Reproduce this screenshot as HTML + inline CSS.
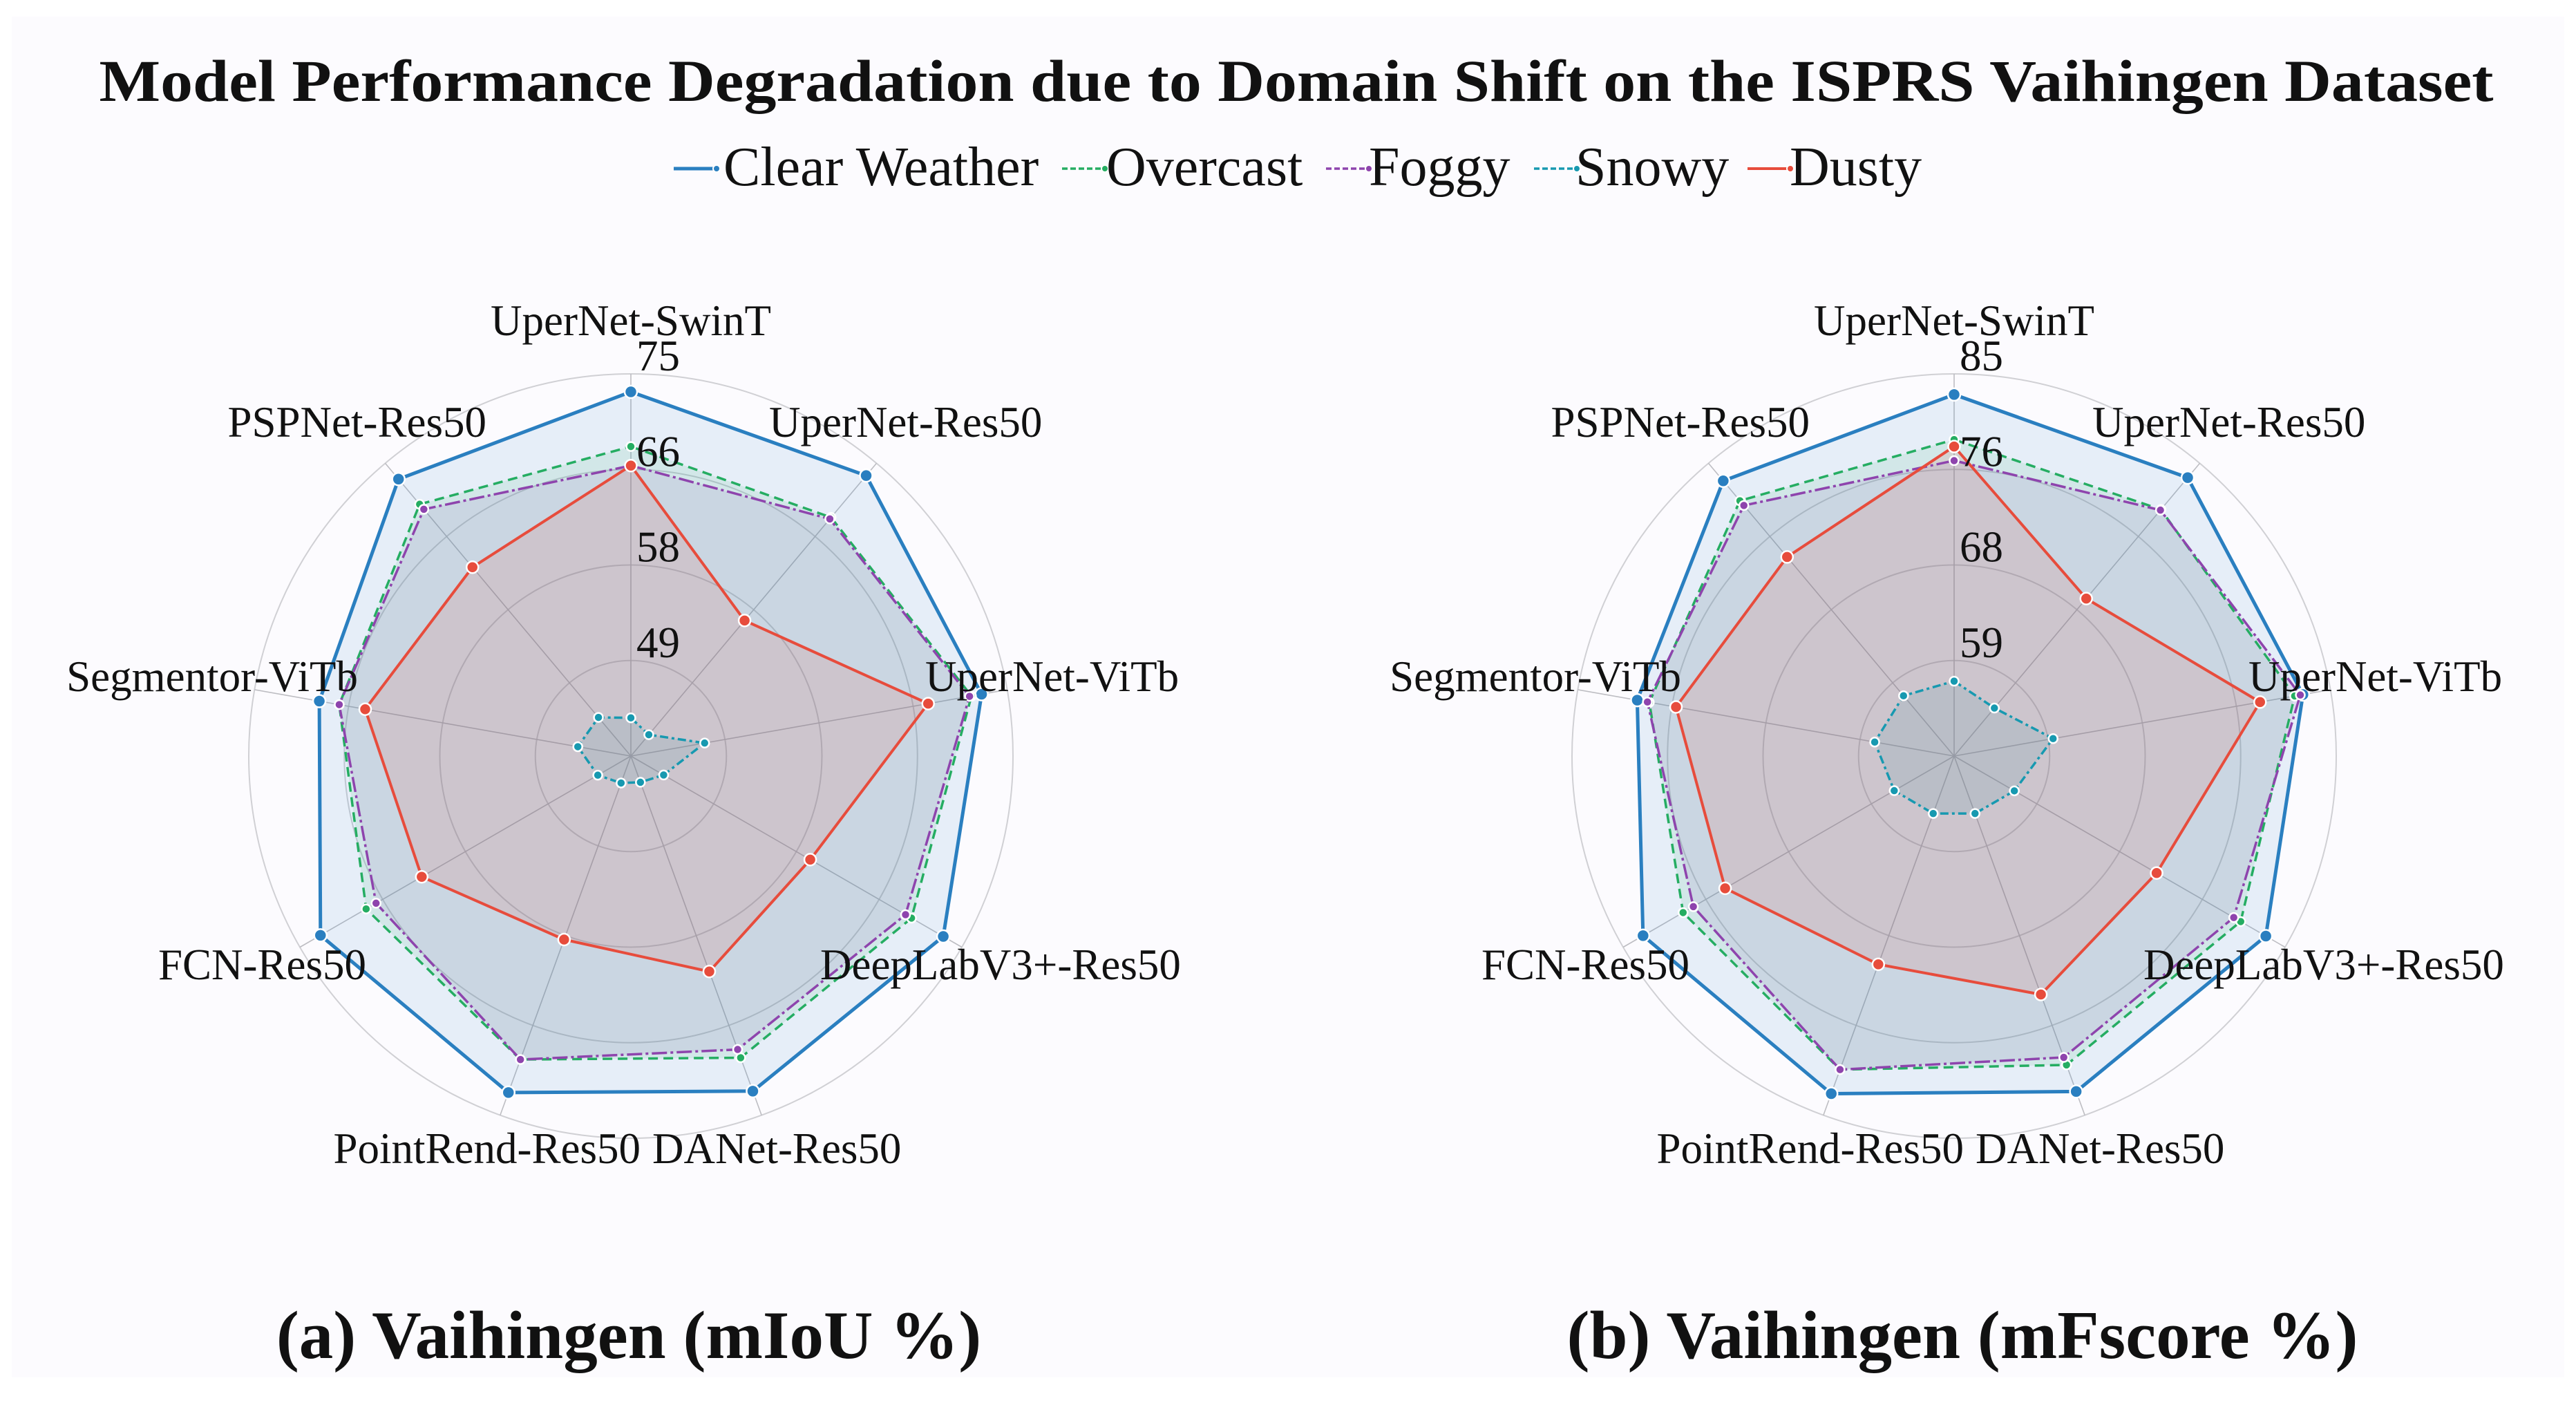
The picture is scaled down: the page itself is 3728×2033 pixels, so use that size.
<!DOCTYPE html>
<html><head><meta charset="utf-8">
<style>
html,body{margin:0;padding:0;background:#fff;}
svg{display:block;}
text{font-family:"Liberation Serif",serif;fill:#111;}
</style></head>
<body>
<svg id="s" width="3728" height="2033" viewBox="0 0 3728 2033" xmlns="http://www.w3.org/2000/svg">
<rect x="0" y="0" width="3728" height="2033" fill="#ffffff"/>
<rect x="17" y="24" width="3694" height="1969" fill="#fcfbfe"/>
<text x="1876" y="146" text-anchor="middle" font-size="86" font-weight="bold" textLength="3465" lengthAdjust="spacingAndGlyphs">Model Performance Degradation due to Domain Shift on the ISPRS Vaihingen Dataset</text>
<g id="legend"></g>
<g id="charts"></g>
<text x="910" y="1965" text-anchor="middle" font-size="99" font-weight="bold">(a) Vaihingen (mIoU %)</text>
<text x="2840" y="1965" text-anchor="middle" font-size="99" font-weight="bold">(b) Vaihingen (mFscore %)</text>
</svg>
<script>
var NS="http://www.w3.org/2000/svg";
function el(p,t,a,txt){var e=document.createElementNS(NS,t);for(var k in a)e.setAttribute(k,a[k]);if(txt!==undefined)e.textContent=txt;p.appendChild(e);return e;}
var series=[
 {name:"Clear Weather",c:"#2a7fc0",fill:"rgba(42,127,192,0.10)",dash:"",w:5,mr:9},
 {name:"Overcast",c:"#25ad62",fill:"rgba(37,173,98,0.10)",dash:"14,8",w:3.5,mr:6.5},
 {name:"Foggy",c:"#8e44ad",fill:"rgba(142,68,173,0.10)",dash:"22,5,4,5",w:3.5,mr:6.5},
 {name:"Snowy",c:"#1799b0",fill:"rgba(23,153,176,0.12)",dash:"12,5,4,5",w:3.5,mr:6.5},
 {name:"Dusty",c:"#e74c3c",fill:"rgba(231,76,60,0.12)",dash:"",w:4,mr:8.5}
];
var lg=document.getElementById("legend");
var L=[[975,1047],[1537,1601],[1919,1981],[2220,2280],[2529,2590]];
for(var i=0;i<5;i++){var s=series[i];
 el(lg,"line",{x1:L[i][0],y1:244,x2:L[i][0]+58,y2:244,stroke:s.c,"stroke-width":s.w,"stroke-dasharray":s.dash?"8,4":""});
 el(lg,"circle",{cx:L[i][0]+62,cy:244,r:5,fill:s.c,stroke:"#fff","stroke-width":2});
 el(lg,"text",{x:L[i][1],y:268,"font-size":80},s.name);}
var labels=["UperNet-SwinT","UperNet-Res50","UperNet-ViTb","DeepLabV3+-Res50","DANet-Res50","PointRend-Res50","FCN-Res50","Segmentor-ViTb","PSPNet-Res50"];
var data=[
 [[0.953,0.958,0.932,0.944,0.933,0.937,0.938,0.828,0.946],
  [0.81,0.815,0.905,0.848,0.84,0.845,0.80,0.775,0.86],
  [0.76,0.81,0.90,0.83,0.817,0.845,0.77,0.775,0.843],
  [0.10,0.073,0.196,0.099,0.073,0.075,0.10,0.141,0.132],
  [0.76,0.463,0.79,0.542,0.60,0.511,0.632,0.706,0.645]],
 [[0.946,0.951,0.927,0.942,0.934,0.94,0.94,0.842,0.94],
  [0.828,0.842,0.905,0.866,0.86,0.873,0.819,0.81,0.872],
  [0.773,0.84,0.92,0.845,0.839,0.873,0.788,0.815,0.856],
  [0.196,0.164,0.263,0.182,0.16,0.16,0.181,0.211,0.206],
  [0.81,0.538,0.813,0.612,0.664,0.58,0.692,0.739,0.68]]
];
var ticks=[["49","58","66","75"],["59","68","76","85"]];
var R=553;
var ch=document.getElementById("charts");
var lp=[[913,485,"middle"],[1113,632,"start"],[1339,1000,"start"],[1187,1417,"start"],[944,1683,"start"],[927,1683,"end"],[530,1417,"end"],[518,1000,"end"],[704,632,"end"]];
[913,2828].forEach(function(cx,ci){
 var cy=1094,g=el(ch,"g",{});
 for(var k=1;k<=4;k++) el(g,"circle",{cx:cx,cy:cy,r:R*k/4,fill:"none",stroke:"#d0d0d4","stroke-width":2});
 for(var a=0;a<9;a++){var t=a*40*Math.PI/180;
  el(g,"line",{x1:cx,y1:cy,x2:cx+R*Math.sin(t),y2:cy-R*Math.cos(t),stroke:"#bdbdc2","stroke-width":1.6});}
 for(var j=0;j<5;j++){var si=j,s=series[si],pts=[];
  for(var a=0;a<9;a++){var t=a*40*Math.PI/180,r=data[ci][si][a]*R;pts.push([cx+r*Math.sin(t),cy-r*Math.cos(t)]);}
  var ps=pts.map(function(p){return p[0].toFixed(1)+","+p[1].toFixed(1)}).join(" ");
  el(g,"polygon",{points:ps,fill:s.fill,stroke:"none"});
  s["p"+ci]=pts;s["ps"+ci]=ps;}
 [0,1,2,3,4].forEach(function(si){var s=series[si];
  el(g,"polygon",{points:s["ps"+ci],fill:"none",stroke:s.c,"stroke-width":s.w,"stroke-dasharray":s.dash,"stroke-linejoin":"round"});
  s["p"+ci].forEach(function(p){el(g,"circle",{cx:p[0],cy:p[1],r:s.mr,fill:s.c,stroke:"#fff","stroke-width":2.5});});});
 for(var k=1;k<=4;k++) el(g,"text",{x:cx+8,y:cy-R*k/4-5,"font-size":63,fill:"#2a2a2a"},ticks[ci][k-1]);
 var dx=cx-913;
 for(var a=0;a<9;a++) el(g,"text",{x:lp[a][0]+dx,y:lp[a][1],"text-anchor":lp[a][2],"font-size":63},labels[a]);
});
</script>
</body></html>
